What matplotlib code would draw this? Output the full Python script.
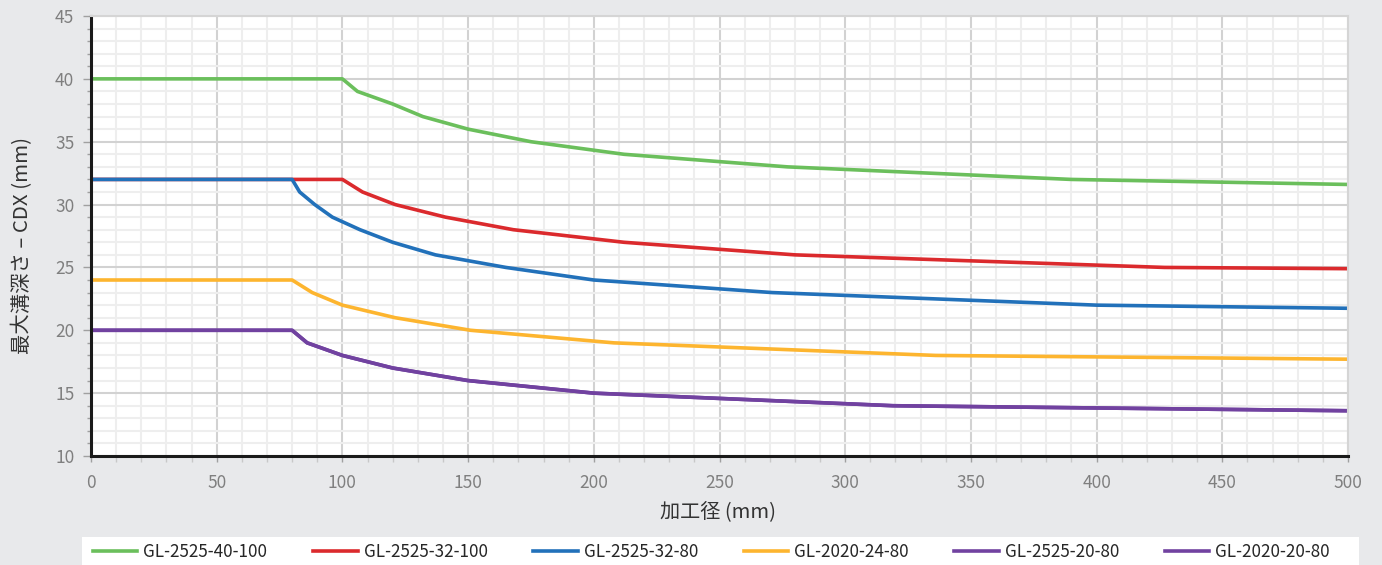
import matplotlib
matplotlib.use("Agg")
import matplotlib.pyplot as plt
from matplotlib.ticker import MultipleLocator
from matplotlib.patches import Rectangle

plt.rcParams['font.family'] = ['Noto Sans CJK JP', 'DejaVu Sans']

# Max groove depth vs. machining diameter for each tool
series_names = ["GL-2525-40-100", "GL-2525-32-100", "GL-2525-32-80",
                "GL-2020-24-80", "GL-2525-20-80", "GL-2020-20-80"]

x_40_100 = [0, 100, 106, 120, 132, 150, 175, 212, 277, 390, 500]
y_40_100 = [40, 40, 39, 38, 37, 36, 35, 34, 33, 32, 31.6]

x_32_100 = [0, 100, 108, 121, 141, 168, 212, 280, 427, 500]
y_32_100 = [32, 32, 31, 30, 29, 28, 27, 26, 25, 24.9]

x_32_80 = [0, 80, 83, 89, 96, 107, 120, 137, 165, 200, 271, 400, 500]
y_32_80 = [32, 32, 31, 30, 29, 28, 27, 26, 25, 24, 23, 22, 21.75]

x_24_80 = [0, 80, 88, 100, 121, 151, 208, 336, 500]
y_24_80 = [24, 24, 23, 22, 21, 20, 19, 18, 17.7]

x_20_80_a = [0, 80, 86, 100, 120, 150, 200, 319, 500]
y_20_80_a = [20, 20, 19, 18, 17, 16, 15, 14, 13.6]

x_20_80_b = [0, 80, 86, 100, 120, 150, 200, 319, 500]
y_20_80_b = [20, 20, 19, 18, 17, 16, 15, 14, 13.6]

series_x = [x_40_100, x_32_100, x_32_80, x_24_80, x_20_80_a, x_20_80_b]
series_y = [y_40_100, y_32_100, y_32_80, y_24_80, y_20_80_a, y_20_80_b]
colors = ["#6BBF5C", "#DB2A2D", "#2271BA", "#FDB52F", "#7142A0", "#7142A0"]

x_ticks = [0, 50, 100, 150, 200, 250, 300, 350, 400, 450, 500]
y_ticks = [10, 15, 20, 25, 30, 35, 40, 45]

W, H = 1382, 565
fig = plt.figure(figsize=(W / 100, H / 100), dpi=100)
fig.patch.set_facecolor("#E8E9EB")

ax = fig.add_axes([91 / W, 1 - 456 / H, (1348 - 91) / W, (456 - 16) / H])
ax.set_facecolor("white")

for xs, ys, c, name in zip(series_x, series_y, colors, series_names):
    ax.plot(xs, ys, color=c, lw=2.6, label=name, solid_joinstyle="round")

ax.set_xlim(0, 500)
ax.set_ylim(10, 45)
ax.set_xticks(x_ticks)
ax.set_yticks(y_ticks)
ax.xaxis.set_minor_locator(MultipleLocator(10))
ax.yaxis.set_minor_locator(MultipleLocator(1))

ax.grid(which="minor", color="#EEEEEE", lw=1.5, zorder=0)
ax.grid(which="major", color="#D2D2D2", lw=1.5, zorder=0)
ax.set_axisbelow(True)

for side in ("top", "right"):
    ax.spines[side].set_color("#D5D5D5")
    ax.spines[side].set_linewidth(1.5)
for side in ("left", "bottom"):
    ax.spines[side].set_color("#1A1A1A")
    ax.spines[side].set_linewidth(2.2)

ax.tick_params(axis="y", which="major", length=6, width=1, color="#A0A0A0",
               labelsize=12.5, labelcolor="#7F7F7F", pad=6)
ax.tick_params(axis="y", which="minor", length=3, width=1, color="#A0A0A0")
ax.tick_params(axis="x", which="major", length=4, width=1, color="#A0A0A0",
               labelsize=12.5, labelcolor="#7F7F7F", pad=9)
ax.tick_params(axis="x", which="minor", length=4, width=1, color="#C8C8C8")

fig.text(22 / W, 1 - 245 / H, "最大溝深さ – CDX (mm)", rotation=90,
         ha="center", va="center", fontsize=14.7, color="#333333")
fig.text(718 / W, 1 - 512 / H, "加工径 (mm)", ha="center", va="center",
         fontsize=14.5, color="#333333")

# White strip behind the legend, running off the bottom edge
fig.patches.append(Rectangle((82 / W, 0), (1359 - 82) / W, 28 / H,
                             transform=fig.transFigure, facecolor="white",
                             edgecolor="none", zorder=0))

handles, labels = ax.get_legend_handles_labels()
leg = fig.legend(handles, labels, loc="center left", ncol=6, mode="expand",
                 bbox_to_anchor=(93 / W, 1 - 552 / H, (1330 - 93) / W, 0),
                 frameon=False, fontsize=12.3,
                 handlelength=2.6, handletextpad=0.35, borderaxespad=0,
                 borderpad=0, columnspacing=1.0)
for t in leg.get_texts():
    t.set_color("#262626")

fig.savefig("out.png", dpi=100, facecolor=fig.get_facecolor())
